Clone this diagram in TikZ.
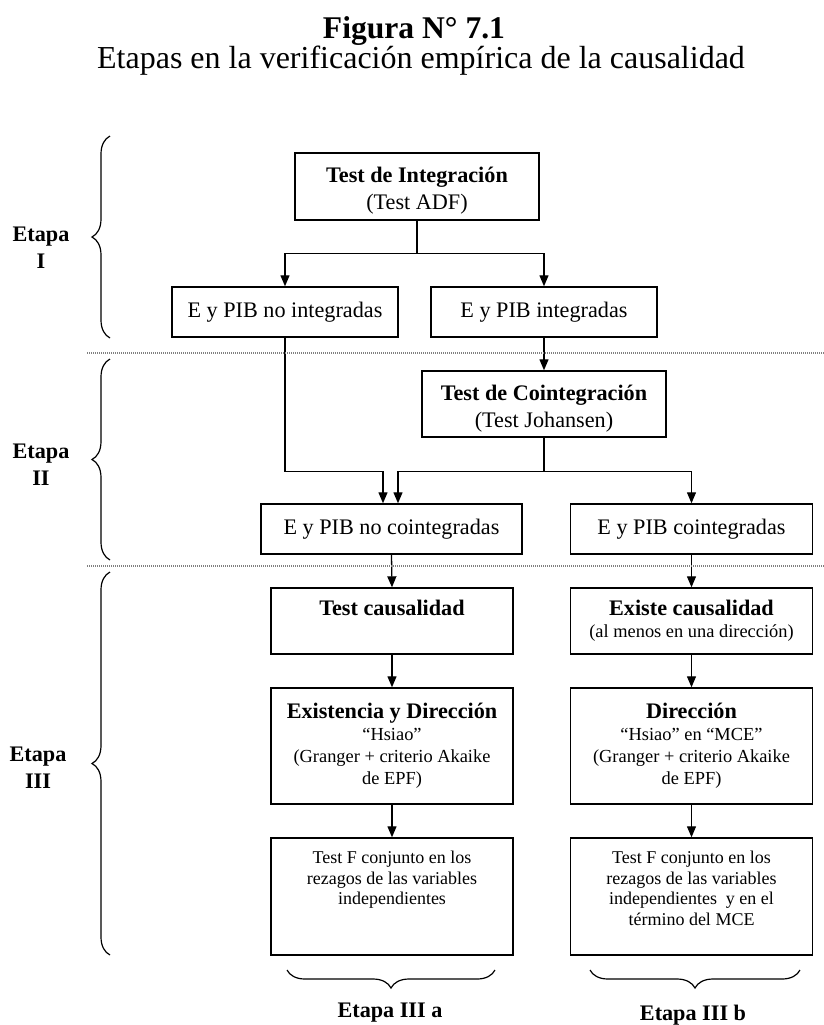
\documentclass[tikz,border=0pt]{standalone}
\usepackage{fontspec}
\setmainfont{Liberation Serif}
\usetikzlibrary{arrows.meta,decorations.pathreplacing}
\newcommand\txtg{\fontsize{11.1}{13.5}\selectfont}
\newcommand\txtp{\fontsize{9.2}{11}\selectfont}
\newcommand\txtf{\fontsize{9}{10.2}\selectfont}

\begin{document}
\begin{tikzpicture}[x=0.5pt,y=-0.5pt,every node/.style={font=\txtg},
  caja/.style 2 args={draw,line width=0.7pt,inner xsep=0pt,inner ysep=2pt,
    align=flush center,text width=#1,minimum height=#2},
  flecha/.style={-{Triangle[length=5.5pt,width=4.5pt]},line width=0.65pt},
  llave/.style={decorate,decoration={brace,amplitude=9pt},line width=0.6pt},
  corte/.style={gray,line width=1pt,dash pattern=on 0.5pt off 0.5pt}]
\useasboundingbox (0,0) rectangle (824,1025);

% titulo
\node[anchor=base,font=\fontsize{15.8}{19}\selectfont\bfseries] (tit) at (414,38) {Figura N° 7.1};
\node[anchor=base,font=\fontsize{16}{19}\selectfont] (subtit) at (421,68) {Etapas en la verificación empírica de la causalidad};

% etapa I
\node[caja={122pt}{33.5pt}] (integ) at (417,186.5) {\rule{0pt}{12pt}\textbf{Test de Integración}\\(Test ADF)\par};
\node[caja={113pt}{25pt}] (noint) at (285,312) {E y PIB no integradas};
\node[caja={113pt}{25pt}] (int) at (544,312) {E y PIB integradas};
\coordinate (reparto) at ([yshift=-16.5pt]integ.south);
\draw[flecha] (integ.south) -- (reparto) -| (noint.north);
\draw[flecha] (integ.south) -- (reparto) -| (int.north);

% etapa II
\node[caja={122pt}{33pt}] (coint) at (544,404) {\rule{0pt}{12pt}\textbf{Test de Cointegración}\\(Test Johansen)\par};
\node[caja={130.5pt}{25pt}] (nocoint) at (391.5,529) {E y PIB no cointegradas};
\node[caja={121pt}{25pt}] (sicoint) at (691.5,529) {E y PIB cointegradas};
\coordinate (cruce) at ([yshift=-17pt]coint.south);
\coordinate (na) at ([xshift=-4.25pt]nocoint.north);
\coordinate (nb) at ([xshift=3.25pt]nocoint.north);
\draw[flecha] (int.south) -- (coint.north);
\draw[flecha] (noint.south) -- (noint.south |- cruce) -| (na);
\draw[flecha] (coint.south) -- (cruce) -| (nb);
\draw[flecha] (coint.south) -- (cruce) -| (sicoint.north);

% etapa III
\node[caja={121pt}{33pt}] (tcaus) at (392,621) {\textbf{Test causalidad}\\\mbox{}\par};
\node[caja={121pt}{33pt}] (excaus) at (691.5,621) {{\bfseries Existe causalidad\par}\txtp(al menos en una dirección)\par};
\node[caja={121pt}{58pt}] (exdir) at (392,746) {{\bfseries Existencia y Dirección\par}\txtp “Hsiao”\\(Granger + criterio Akaike\\de EPF)\par};
\node[caja={121pt}{58pt}] (dir) at (691.5,746) {{\bfseries Dirección\par}\txtp “Hsiao” en “MCE”\\(Granger + criterio Akaike\\de EPF)\par};
\node[caja={121pt}{58.5pt}] (testfa) at (392,896.5) {\txtf Test F conjunto en los\\rezagos de las variables\\independientes\\\mbox{}\\[-2pt]\mbox{}\par};
\node[caja={121pt}{58.5pt}] (testfb) at (691.5,896.5) {\txtf Test F conjunto en los\\rezagos de las variables\\independientes \ y en el\\término del MCE\\[-2pt]\mbox{}\par};
\draw[flecha] (nocoint.south) -- (tcaus.north);
\draw[flecha] (sicoint.south) -- (excaus.north);
\draw[flecha] (tcaus.south) -- (exdir.north);
\draw[flecha] (excaus.south) -- (dir.north);
\draw[flecha] (exdir.south) -- (testfa.north);
\draw[flecha] (dir.south) -- (testfb.north);

% separadores
\draw[corte] (87,353) -- (824,353);
\draw[corte] (87,566) -- (824,566);

% llaves laterales
\draw[llave] (110,338) -- (110,136);
\draw[llave] (110,560) -- (110,359);
\draw[llave] (110,955) -- (110,572);
\node[align=center,font=\txtg\bfseries] (et1) at (41,248) {Etapa\\I};
\node[align=center,font=\txtg\bfseries] (et2) at (41,465) {Etapa\\II};
\node[align=center,font=\txtg\bfseries] (et3) at (38,768) {Etapa\\III};

% llaves inferiores
\draw[llave] (495,970) -- (287,970);
\draw[llave] (800,970) -- (590,970);
\node[anchor=base,font=\txtg\bfseries] (et3a) at (390,1017) {Etapa III a};
\node[anchor=base,font=\txtg\bfseries] (et3b) at (693,1020) {Etapa III b};
\end{tikzpicture}
\end{document}
